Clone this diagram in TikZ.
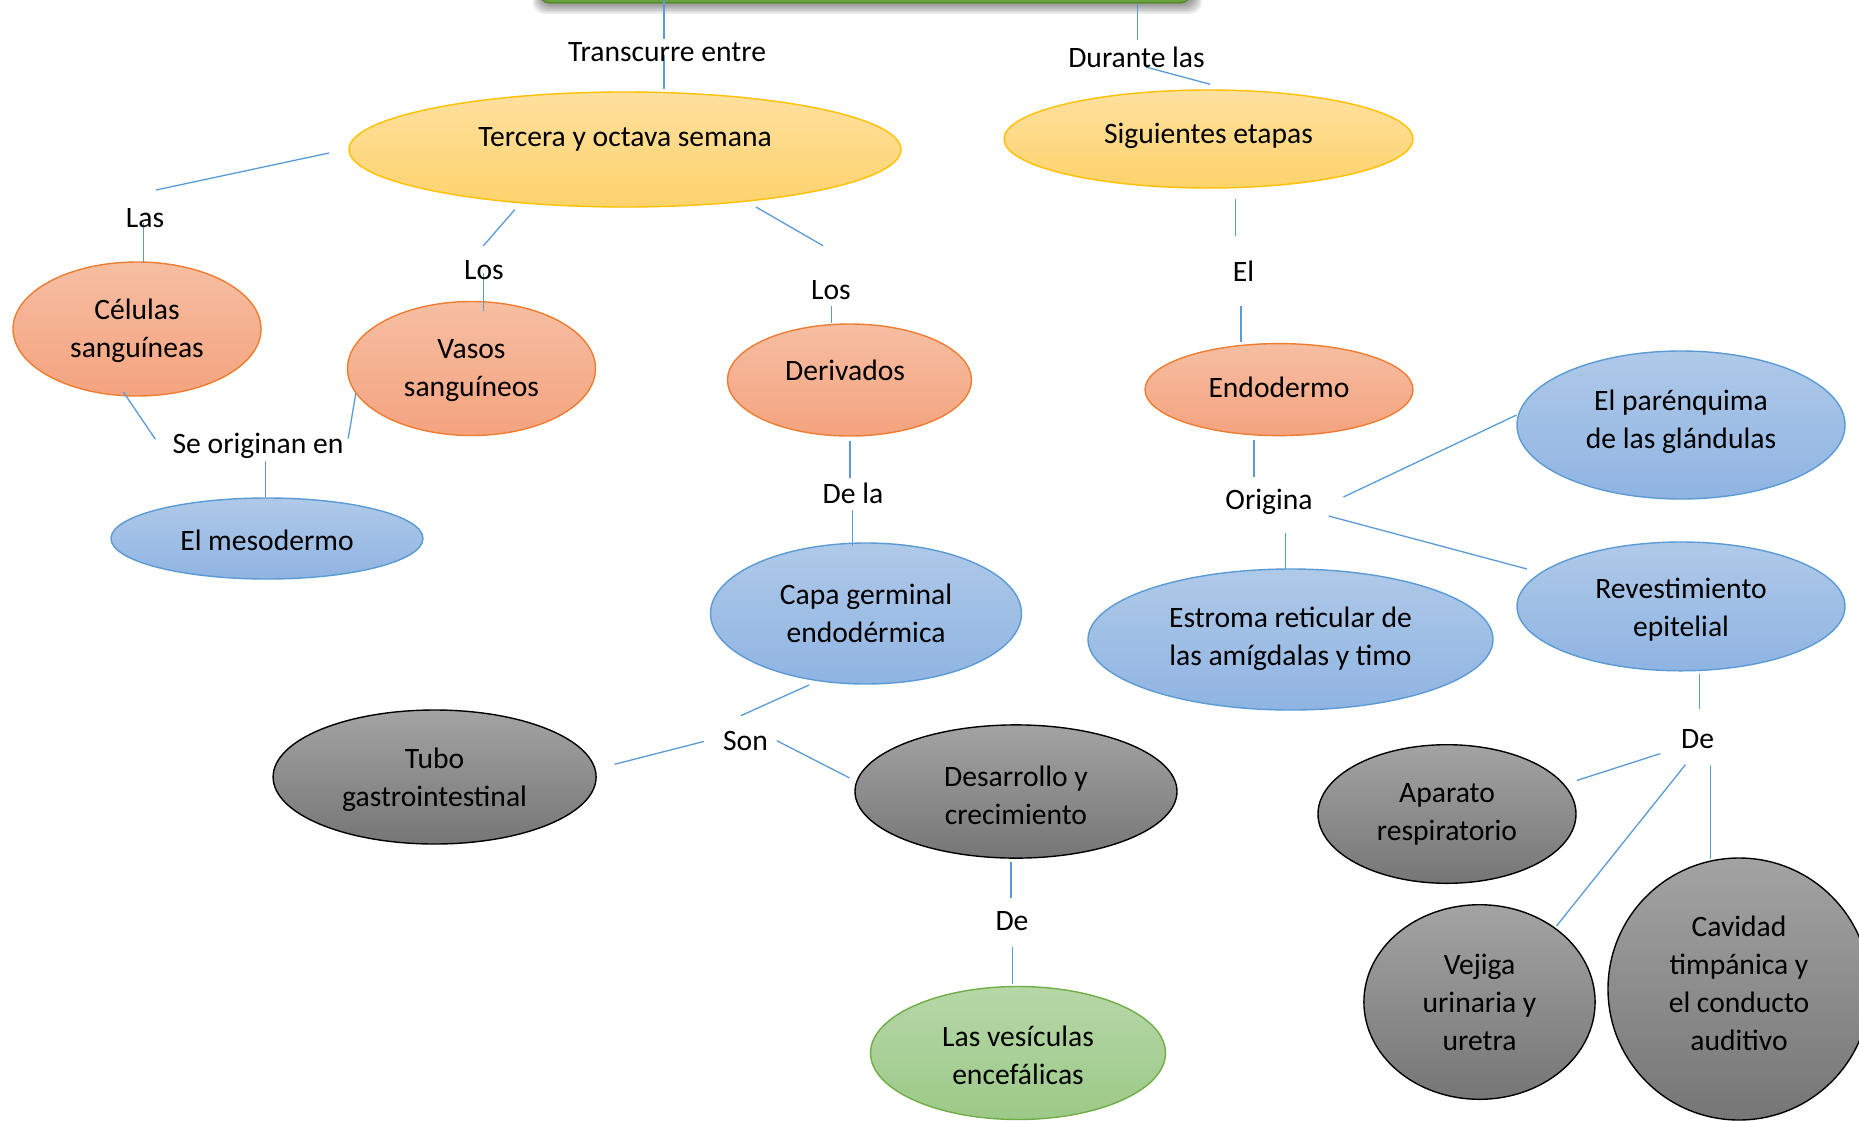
\documentclass[tikz,border=0pt]{standalone}
\usepackage{fontspec}
\setmainfont{Carlito}
\usetikzlibrary{shapes.geometric}
\definecolor{goldT}{HTML}{FFE09F}
\definecolor{goldB}{HTML}{FED36C}
\definecolor{goldD}{HTML}{FFC000}
\definecolor{orT}{HTML}{F6BEA2}
\definecolor{orB}{HTML}{F4A37F}
\definecolor{orD}{HTML}{ED7D31}
\definecolor{blT}{HTML}{AFC9E8}
\definecolor{blB}{HTML}{8FB4E2}
\definecolor{blD}{HTML}{5B9BD5}
\definecolor{grT}{HTML}{A3A3A3}
\definecolor{grB}{HTML}{767676}
\definecolor{gnT}{HTML}{B6D7A8}
\definecolor{gnB}{HTML}{9CC987}
\definecolor{gnD}{HTML}{70AD47}
\definecolor{topG}{HTML}{68A23A}
\definecolor{lineC}{HTML}{5B9BD5}
\begin{document}
\begin{tikzpicture}[x=0.5pt,y=-0.5pt,
  ov/.style 2 args={ellipse, inner sep=0pt, minimum width=#1pt, minimum height=#2pt},
  goldE/.style={top color=goldT, bottom color=goldB, draw=goldD, line width=0.7pt},
  orE/.style={top color=orT, bottom color=orB, draw=orD, line width=0.7pt},
  blE/.style={top color=blT, bottom color=blB, draw=blD, line width=0.7pt},
  grE/.style={top color=grT, bottom color=grB, draw=black, line width=0.7pt},
  gnE/.style={top color=gnT, bottom color=gnB, draw=gnD, line width=0.7pt},
  txt/.style={font=\fontsize{14.8}{19}\selectfont, align=center, inner sep=0pt, text=black},
  con/.style={draw=lineC, line width=0.65pt}]
\useasboundingbox (0,0) rectangle (1859,1120);
\fill[white] (0,0) rectangle (1859,1120);

% top box with shadow
\foreach \k in {0,1,2,3,4,5}{
  \fill[black, opacity=0.07, rounded corners=6pt] (540-\k*1.5,-80) rectangle (1194+\k*1.6,6+\k*1.6);
}
\draw[fill=topG, draw=topG!80!black, line width=0.6pt, rounded corners=6pt] (538,-80) rectangle (1192,3);
\node[inner sep=0pt] (topbox) at (865,-40) {};

% ellipses
\node[ov={276}{57.5}, goldE] (tercera) at (625,149.5) {};
\node[ov={204.5}{49}, goldE] (sig) at (1208.5,139) {};
\node[ov={124}{67}, orE] (cel) at (137,329) {};
\node[ov={124}{67}, orE] (vasos) at (471.5,368.5) {};
\node[ov={122}{56}, orE] (deriv) at (849.5,380) {};
\node[ov={134}{46}, orE] (endo) at (1279,389.6) {};
\node[ov={164}{74}, blE] (paren) at (1681,425) {};
\node[ov={156}{40.5}, blE] (meso) at (267,538.5) {};
\node[ov={155.5}{70.5}, blE] (capa) at (866,613.5) {};
\node[ov={202.5}{70.5}, blE] (estroma) at (1290.5,639.5) {};
\node[ov={164}{64.4}, blE] (revest) at (1681,606.4) {};
\node[ov={161.5}{67}, grE] (tubo) at (434.6,777) {};
\node[ov={161}{66.6}, grE] (desa) at (1016,791.5) {};
\node[ov={147.5}{66.5}, gnE] (vesic) at (1018,1053) {};
\node[ov={129}{69.3}, grE] (apar) at (1447,814) {};
\node[ov={115.6}{97.3}, grE] (vejiga) at (1479.5,1002) {};
\node[ov={131}{131}, grE] (cavidad) at (1739,989) {};

% connector end points
\coordinate (a1s) at (664,0);      \coordinate (a1e) at (664,39);
\coordinate (a2s) at (664,55);     \coordinate (a2e) at (664,88.6);
\coordinate (bs) at (329,153);     \coordinate (be) at (156,190);
\coordinate (cs) at (143.5,223);   \coordinate (ce) at (143.5,262);
\coordinate (ds) at (514.8,209.6); \coordinate (de) at (483.4,245.7);
\coordinate (es) at (483.4,273);   \coordinate (ee) at (483.4,310.7);
\coordinate (fs) at (756,207);     \coordinate (fe) at (823,245.7);
\coordinate (gs) at (831.5,306.4); \coordinate (ge) at (831.5,323);
\coordinate (hs) at (123.4,392);   \coordinate (he) at (155.4,439.3);
\coordinate (is) at (355.9,392.9); \coordinate (ie) at (348.2,438.6);
\coordinate (js) at (265.7,460.7); \coordinate (je) at (265.7,497);
\coordinate (ks) at (850,441);     \coordinate (ke) at (850,477.5);
\coordinate (ls) at (852.3,510);   \coordinate (le) at (852.3,546.4);
\coordinate (ms) at (1137.5,3.6);  \coordinate (me) at (1137.5,40.4);
\coordinate (ns) at (1146.2,67.1); \coordinate (ne) at (1210.2,84.3);
\coordinate (os) at (1235.7,199);  \coordinate (oe) at (1235.7,235.7);
\coordinate (ps) at (1241,306);    \coordinate (pe) at (1241,342);
\coordinate (qs) at (1254,440);    \coordinate (qe) at (1254,476.8);
\coordinate (rs) at (1343.5,497);  \coordinate (re) at (1516.5,415);
\coordinate (ss) at (1328.7,516);  \coordinate (se) at (1527,569);
\coordinate (ts) at (1285.5,533);  \coordinate (te) at (1285.5,569);
\coordinate (us) at (809,685);     \coordinate (ue) at (740.8,715.7);
\coordinate (vs) at (704,741.4);   \coordinate (ve) at (614.5,764.3);
\coordinate (ws) at (776.8,740.7); \coordinate (we) at (849.5,777.9);
\coordinate (xs) at (1011,861.8);  \coordinate (xe) at (1011,897.5);
\coordinate (ys) at (1012.5,946.8);\coordinate (ye) at (1012.5,984);
\coordinate (zs) at (1699.4,673.6);\coordinate (ze) at (1699.4,709.3);
\coordinate (aas) at (1660.3,753.6);\coordinate (aae) at (1577,780.4);
\coordinate (bbs) at (1685.5,764.6);\coordinate (bbe) at (1556.5,926);
\coordinate (ccs) at (1710.7,764.6);\coordinate (cce) at (1710.7,859.3);

\foreach \c in {a1,a2,b,c,d,e,f,g,h,i,j,k,l,m,n,o,p,q,r,s,t,u,v,w,x,y,z,aa,bb,cc}{
  \draw[con] (\c s) -- (\c e);
}

% texts in ellipses
\node[txt] (Ttercera) at (625,139) {Tercera y octava semana};
\node[txt] (Tsig) at (1208.5,136) {Siguientes etapas};
\node[txt] (Tcel) at (137,330.5) {Células\\sanguíneas};
\node[txt] (Tvasos) at (471.5,370.5) {Vasos\\sanguíneos};
\node[txt] (Tderiv) at (845,370) {Derivados};
\node[txt] (Tendo) at (1279,387.5) {Endodermo};
\node[txt] (Tparen) at (1681,421.5) {El parénquima\\de las glándulas};
\node[txt] (Tmeso) at (267,540) {El mesodermo};
\node[txt] (Tcapa) at (866,613) {Capa germinal\\endodérmica};
\node[txt] (Testroma) at (1290.5,639) {Estroma reticular de\\las amígdalas y timo};
\node[txt] (Trevest) at (1681,610) {Revestimiento\\epitelial};
\node[txt] (Ttubo) at (434.6,779.6) {Tubo\\gastrointestinal};
\node[txt] (Tdesa) at (1016,795) {Desarrollo y\\crecimiento};
\node[txt] (Tvesic) at (1018,1055) {Las vesículas\\encefálicas};
\node[txt] (Tapar) at (1447,814.4) {Aparato\\respiratorio};
\node[txt] (Tvejiga) at (1479.5,1002) {Vejiga\\urinaria y\\uretra};
\node[txt] (Tcavidad) at (1739,983.5) {Cavidad\\timpánica y\\el conducto\\auditivo};

% linking words
\node[txt] (l1) at (667,52) {Transcurre entre};
\node[txt] (l2) at (1136.5,57) {Durante las};
\node[txt] (l3) at (145,218) {Las};
\node[txt] (l4) at (484,270) {Los};
\node[txt] (l5) at (831,290) {Los};
\node[txt] (l6) at (258,446) {Se originan en};
\node[txt] (l7) at (853,493) {De la};
\node[txt] (l8) at (1243.5,271.4) {El};
\node[txt] (l9) at (1269,502) {Origina};
\node[txt] (l10) at (745.5,741.4) {Son};
\node[txt] (l11) at (1012,920.7) {De};
\node[txt] (l12) at (1697.5,738.6) {De};
\end{tikzpicture}
\end{document}
